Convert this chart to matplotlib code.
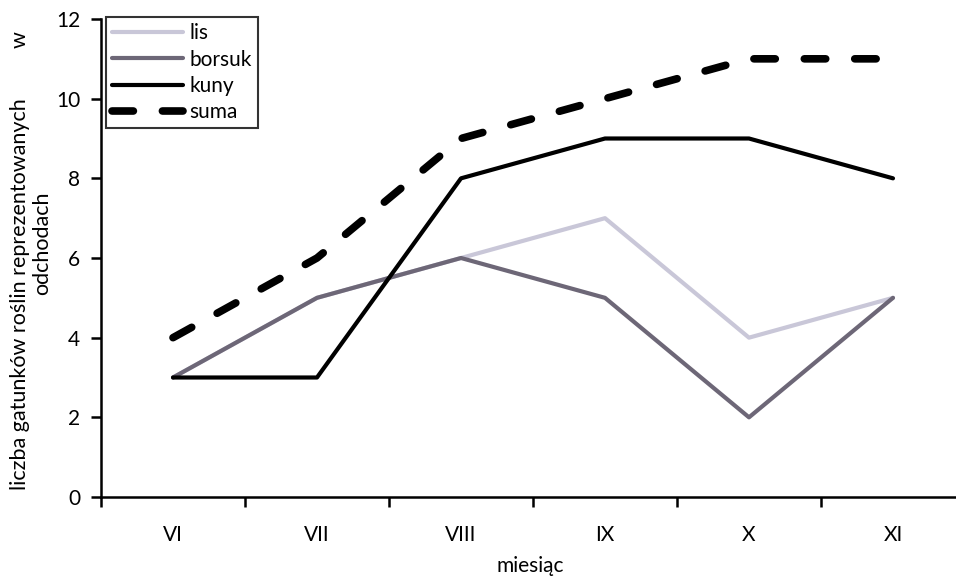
import matplotlib.pyplot as plt

plt.rcParams['font.family'] = ['Lato', 'DejaVu Sans']

miesiace = ["VI", "VII", "VIII", "IX", "X", "XI"]
lis = [3, 5, 6, 7, 4, 5]
borsuk = [3, 5, 6, 5, 2, 5]
kuny = [3, 3, 8, 9, 9, 8]
suma = [4, 6, 9, 10, 11, 11]

W, H = 956, 581
fig = plt.figure(figsize=(W / 100, H / 100), dpi=100)
# last category runs past the right edge of the figure
ax = fig.add_axes([101 / W, 84 / H, 864 / W, 478 / H])

x = range(len(miesiace))
ax.plot(x, lis, color="#c9c7d8", lw=3, label="lis", solid_capstyle="round")
ax.plot(x, borsuk, color="#6d6777", lw=3, label="borsuk", solid_capstyle="round")
ax.plot(x, kuny, color="black", lw=3, label="kuny", solid_capstyle="round")
ax.plot(x, suma, color="black", lw=5.5, dashes=(2.8, 3.8), dash_capstyle="round",
        label="suma")

ax.set_xlim(-0.5, 5.5)
ax.set_ylim(0, 12)
ax.set_yticks(range(0, 13, 2))
ax.set_xticks([i + 0.5 for i in range(-1, 6)])
ax.set_xticklabels([])
ax.set_xticks(list(x), minor=True)
ax.set_xticklabels(miesiace, minor=True)
ax.tick_params(axis="x", which="minor", length=0, pad=20, labelsize=15)
ax.tick_params(axis="x", which="major", length=7, width=1.8)
ax.tick_params(axis="y", length=7, width=1.8, labelsize=15, pad=8)

for s in ["top", "right"]:
    ax.spines[s].set_visible(False)
for s in ["left", "bottom"]:
    ax.spines[s].set_linewidth(1.8)

fig.text(530 / W, 1 - 566 / H, "miesiąc", fontsize=15, ha="center", va="center")
fig.text(20 / W, 1 - 490 / H, "liczba gatunków roślin reprezentowanych",
         fontsize=15.5, rotation=90, ha="center", va="bottom")
fig.text(20 / W, 1 - 40 / H, "w", fontsize=15.5, rotation=90, ha="center", va="center")
fig.text(42 / W, 1 - 243 / H, "odchodach", fontsize=15.5, rotation=90,
         ha="center", va="center")

leg = ax.legend(loc="upper left", bbox_to_anchor=(0.006, 1.004), fontsize=15,
                frameon=True, fancybox=False, edgecolor="black", handlelength=3.4,
                handletextpad=0.3, labelspacing=0.3, borderpad=0.3, borderaxespad=0)
leg.get_frame().set_linewidth(1.5)

fig.savefig("out.png", dpi=100)
